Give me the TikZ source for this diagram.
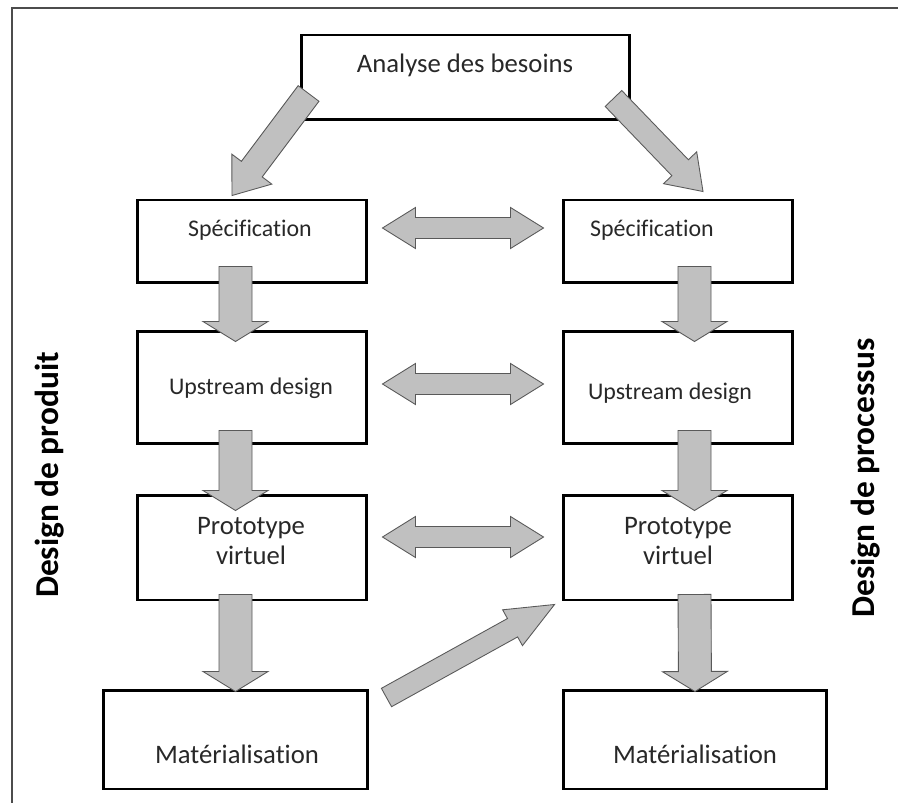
\documentclass[tikz,border=0pt]{standalone}
\usepackage{fontspec}
\setmainfont{Carlito}[Ligatures=NoCommon]
\usepackage{tikz}
\usetikzlibrary{calc}
\definecolor{arrowgray}{RGB}{192,192,192}
\definecolor{textgray}{RGB}{40,40,40}

% block arrow: from, to, shaft half width, head half width, head length
\newcommand{\blockarrow}[5]{%
  \path (#1) coordinate (ba-s) (#2) coordinate (ba-t);
  \coordinate (ba-h) at ($(ba-t)!#5!(ba-s)$);
  \draw[flowarrow] ($(ba-s)!#3!90:(ba-t)$) -- ($(ba-h)!#3!90:(ba-t)$)
    -- ($(ba-h)!#4!90:(ba-t)$) -- (ba-t) -- ($(ba-h)!#4!-90:(ba-t)$)
    -- ($(ba-h)!#3!-90:(ba-t)$) -- ($(ba-s)!#3!-90:(ba-t)$) -- cycle;
}
% same with a head at both ends
\newcommand{\dblarrow}[5]{%
  \path (#1) coordinate (da-a) (#2) coordinate (da-b);
  \coordinate (da-ha) at ($(da-a)!#5!(da-b)$);
  \coordinate (da-hb) at ($(da-b)!#5!(da-a)$);
  \draw[flowarrow] (da-a) -- ($(da-ha)!#4!90:(da-b)$) -- ($(da-ha)!#3!90:(da-b)$)
    -- ($(da-hb)!#3!90:(da-b)$) -- ($(da-hb)!#4!90:(da-b)$) -- (da-b)
    -- ($(da-hb)!#4!-90:(da-b)$) -- ($(da-hb)!#3!-90:(da-b)$)
    -- ($(da-ha)!#3!-90:(da-b)$) -- ($(da-ha)!#4!-90:(da-b)$) -- cycle;
}

\begin{document}
\begin{tikzpicture}[
  x=0.02cm, y=-0.02cm,
  box/.style={draw, line width=1.7pt, inner sep=0pt, minimum width=4.6cm},
  txt/.style={text=textgray, font=\fontsize{13.6}{16}\selectfont},
  bigtxt/.style={text=textgray, align=center, font=\fontsize{15.2}{17.6}\selectfont},
  side/.style={rotate=90, font=\fontsize{19}{22}\selectfont\bfseries},
  flowarrow/.style={draw=black!65, fill=arrowgray, line width=0.5pt},
  ]
  \useasboundingbox (0,0) rectangle (898,803);
  % frame
  \draw[black!70, line width=0.8pt] (898,8) -- (12,8) -- (12,803);

  % boxes
  \node[box, minimum width=6.58cm, minimum height=1.7cm] (analyse) at (465.5,77.5) {};
  \node[box, minimum height=1.66cm] (specL) at (252,241.5) {};
  \node[box, minimum height=1.66cm] (specR) at (678,241.5) {};
  \node[box, minimum height=2.26cm] (upL) at (252,387.5) {};
  \node[box, minimum height=2.26cm] (upR) at (678,387.5) {};
  \node[box, minimum height=2.1cm] (protoL) at (252,547.5) {};
  \node[box, minimum height=2.1cm] (protoR) at (678,547.5) {};
  \node[box, minimum width=5.3cm, minimum height=1.98cm] (matL) at (235.5,739.5) {};
  \node[box, minimum width=5.28cm, minimum height=1.98cm] (matR) at (695,739.5) {};

  % texts
  \node[bigtxt] (analyseT) at (465,65) {Analyse des besoins};
  \node[txt] (specLT) at (250,230) {Spécification};
  \node[txt] (specRT) at (652,230) {Spécification};
  \node[txt] (upLT) at (251,388) {Upstream design};
  \node[txt] (upRT) at (670,393) {Upstream design};
  \node[bigtxt] (protoLT) at (251,541) {Prototype\\virtuel};
  \node[bigtxt] (protoRT) at (678,541) {Prototype\\virtuel};
  \node[bigtxt] (matLT) at (237,754) {Matérialisation};
  \node[bigtxt] (matRT) at (695,754) {Matérialisation};
  \node[side] (produit) at (50,475) {Design de produit};
  \node[side] (processus) at (866,478) {Design de processus};

  % arrows down each column
  \foreach \a/\b/\dx/\ys/\tx/\yt in {specL/upL/-16.5/-18/-16.5/12,
      upL/protoL/-16.5/-15/-16.5/17, protoL/matL/-16.5/-7/0/3,
      specR/upR/16.5/-18/16.5/12, upR/protoR/16.5/-15/16.5/17,
      protoR/matR/16.5/-7/0/3} {
    \blockarrow{$(\a.south)+(\dx,\ys)$}{$(\b.north)+(\tx,\yt)$}{0.33cm}{0.65cm}{0.4cm}
  }
  % exchanges between columns
  \foreach \a/\b/\dy in {specL/specR/-13.5, upL/upR/-3.5, protoL/protoR/-10.5} {
    \dblarrow{$(\a.east)+(14,\dy)$}{$(\b.west)+(-18,\dy)$}{0.21cm}{0.41cm}{0.66cm}
  }
  % diagonals
  \blockarrow{$(analyse.south west)+(9,-28)$}{$(specL.north)+(-20,-3)$}{0.26cm}{0.5cm}{0.66cm}
  \blockarrow{$(analyse.south east)+(-18,-23)$}{$(specR.north)+(25,-7)$}{0.23cm}{0.46cm}{0.66cm}
  \blockarrow{$(matL.north east)+(17,9)$}{$(protoR.south west)+(-7,3)$}{0.21cm}{0.41cm}{0.96cm}
\end{tikzpicture}
\end{document}
